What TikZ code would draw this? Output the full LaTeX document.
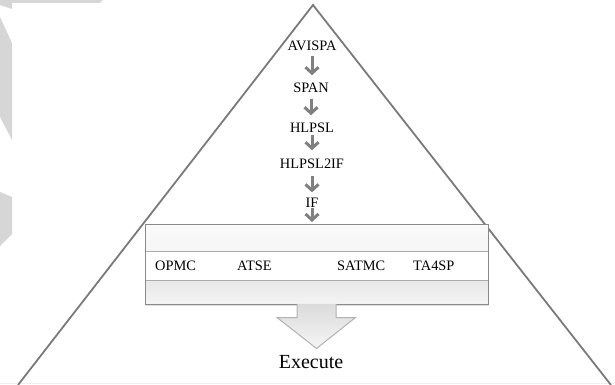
\documentclass[tikz,border=0pt]{standalone}
\usepackage{fontspec}
\setmainfont{Liberation Serif}
\usetikzlibrary{arrows.meta,shadows,calc}
\definecolor{edgegray}{HTML}{7A7A7A}
\definecolor{flowgray}{HTML}{808080}
\definecolor{markgray}{HTML}{D6D6D6}
\definecolor{boxline}{HTML}{8A8A8A}
\definecolor{bandline}{HTML}{ABABAB}
\tikzset{
  stage/.style={font=\fontsize{14.4}{16}\selectfont, inner sep=0pt, anchor=base},
  tool/.style={font=\fontsize{14.4}{16}\selectfont, inner sep=0pt, anchor=base west},
  flow/.style={draw=flowgray, line width=3pt, -{Straight Barb[length=6pt,width=13pt]}},
  toolbox/.style={draw=boxline, line width=1pt, fill=white, inner sep=0pt,
    minimum width=343pt, minimum height=80pt,
    drop shadow={shadow xshift=0.8pt, shadow yshift=-1.8pt, opacity=0.25},
    path picture={
      \shade[top color=white!96!gray, bottom color=gray!13]
        (path picture bounding box.north west) rectangle ([yshift=-27pt]path picture bounding box.north east);
      \shade[top color=gray!18, bottom color=gray!9]
        ([yshift=24pt]path picture bounding box.south west) rectangle (path picture bounding box.south east);
      \draw[bandline, line width=0.8pt]
        ([yshift=-27pt]path picture bounding box.north west) -- ([yshift=-27pt]path picture bounding box.north east)
        ([yshift=24pt]path picture bounding box.south west) -- ([yshift=24pt]path picture bounding box.south east);
    }},
  bigarrow/.style={draw=gray!60, line width=1pt, top color=gray!28, bottom color=gray!8},
}
\begin{document}
\begin{tikzpicture}[x=1pt,y=-1pt]
\useasboundingbox (0,0) rectangle (615,385);

% light marks along the left edge
\fill[markgray] (0,0) -- (103,0) -- (100,3) -- (12,3) -- (12,9) -- (0,5) -- cycle;
\fill[markgray] (0,17) -- (12,43) -- (12,140) -- (0,117) -- cycle;
\fill[markgray] (0,192) -- (12,197) -- (12,234) -- (0,246) -- cycle;
\draw[gray!12, line width=0.8pt] (0,383.5) -- (615,383.5);

% pyramid outline
\draw[edgegray, line width=1.8pt, line join=miter] (18,385) -- (313,5) -- (611,385);

% processing chain
\node[stage] (avispa) at (312,51) {AVISPA};
\node[stage] (span)   at (311,93) {SPAN};
\node[stage] (hlpsl)  at (312,132) {HLPSL};
\node[stage] (h2if)   at (312,168) {HLPSL2IF};
\node[stage] (if)     at (312,207) {IF};

% back-end tools
\node[toolbox] (box) at (316.5,264) {};
\node[tool] (opmc)  at (155,270) {OPMC};
\node[tool] (atse)  at (237,270) {ATSE};
\node[tool] (satmc) at (337,270) {SATMC};
\node[tool] (ta4sp) at (413,270) {TA4SP};

\draw[flow, shorten <=5pt, shorten >=8pt] (avispa.south) -- (avispa.south |- span.north);
\draw[flow, shorten <=6pt, shorten >=7pt] (span.south) -- (span.south |- hlpsl.north);
\draw[flow, shorten <=2.5pt, shorten >=8pt] (hlpsl.south) -- (hlpsl.south |- h2if.north);
\draw[flow, shorten <=8pt, shorten >=5pt] (h2if.south) -- (h2if.south |- if.north);
\draw[flow, shorten <=1pt, shorten >=1.5pt] (if.south) -- (if.south |- box.north);

% output arrow
\path[bigarrow] ($(box.south)+(-19.5,-0.6)$) -- ++(0,13.6) -- ++(-20,0)
  -- ($(box.south)+(0,44)$) -- ($(box.south)+(39,13)$) -- ++(-19.5,0) -- ++(0,-13.6);

\node[font=\fontsize{20}{24}\selectfont, anchor=base, inner sep=0pt] (exec) at (311,368) {Execute};
\end{tikzpicture}
\end{document}
